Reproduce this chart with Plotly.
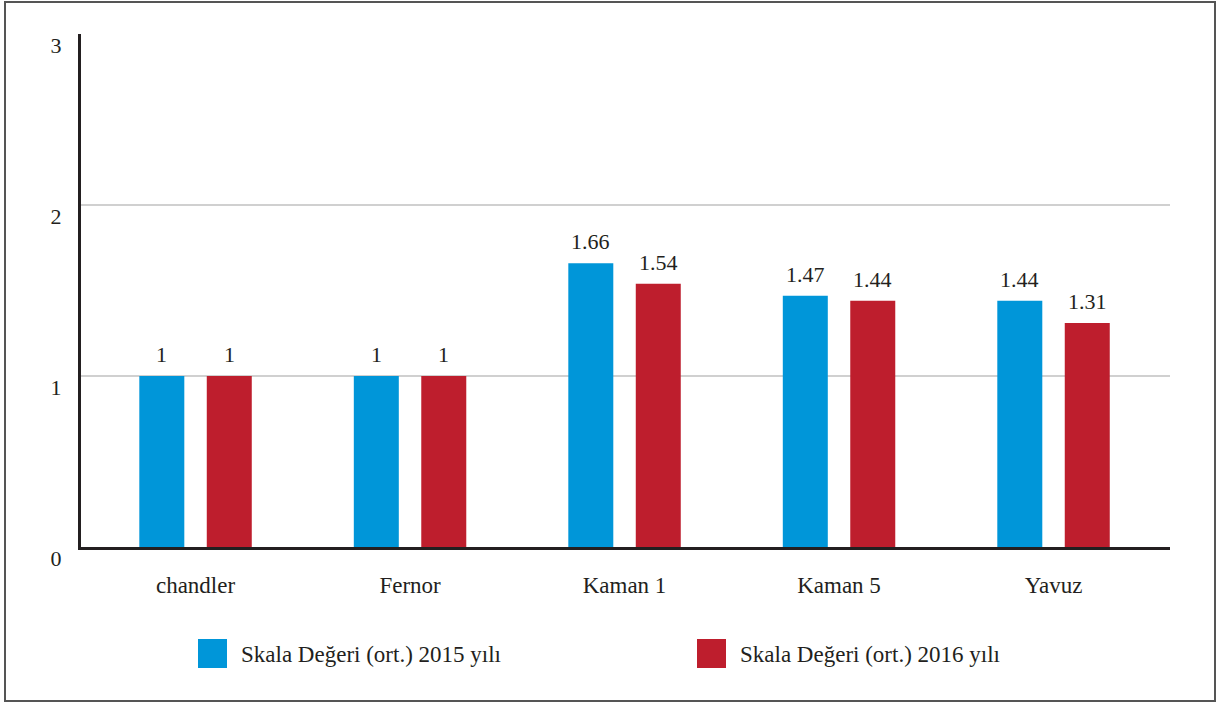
import plotly.graph_objects as go

# Data
categories = ["chandler", "Fernor", "Kaman 1", "Kaman 5", "Yavuz"]
series_names = ["Skala Değeri (ort.) 2015 yılı", "Skala Değeri (ort.) 2016 yılı"]
values_2015 = [1, 1, 1.66, 1.47, 1.44]
values_2016 = [1, 1, 1.54, 1.44, 1.31]
y_ticks = [0, 1, 2, 3]

colors = ["#0096d9", "#be1e2d"]
text_color = "#231f20"
font_family = "Liberation Serif, Times New Roman, serif"

# Page geometry (pixels)
W, H = 1218, 704
L, R, T, B = 81, 48, 34, 157
pw, ph = W - L - R, H - T - B


def px_x(x):
    return (x - L) / pw


def px_y(y):
    return (H - B - y) / ph


fig = go.Figure()
for name, vals, col in zip(series_names, [values_2015, values_2016], colors):
    fig.add_trace(go.Bar(
        x=list(range(len(categories))), y=vals, name=name,
        marker=dict(color=col, line=dict(width=0)),
        showlegend=False,
    ))

# Value labels above bars
bargap, bargroupgap = 0.371, 0.333
slot = (1 - bargap) / 2
annotations = []
for k, vals in enumerate([values_2015, values_2016]):
    off = (k - 0.5) * slot
    for i, v in enumerate(vals):
        annotations.append(dict(
            x=i + off, y=v, xref="x", yref="y", text=f"{v:g}",
            showarrow=False, yanchor="bottom", yshift=7,
            font=dict(size=22, color=text_color, family=font_family),
        ))

# Legend drawn as swatches and labels
shapes = []
legend_x = [198, 697]
for name, col, lx in zip(series_names, colors, legend_x):
    shapes.append(dict(type="rect", xref="paper", yref="paper",
                       x0=px_x(lx), x1=px_x(lx + 29), y0=px_y(668), y1=px_y(639),
                       fillcolor=col, line=dict(width=0)))
    annotations.append(dict(x=px_x(lx + 41), y=px_y(654), xref="paper", yref="paper",
                            text=name, showarrow=False, xanchor="left", yanchor="middle",
                            font=dict(size=23, color=text_color, family=font_family)))

# Outer frame
shapes.append(dict(type="rect", xref="paper", yref="paper",
                   x0=px_x(5), x1=px_x(1215), y0=px_y(701), y1=px_y(2),
                   line=dict(color="#555555", width=2), fillcolor="rgba(0,0,0,0)",
                   layer="below"))

fig.update_layout(
    width=W, height=H,
    margin=dict(l=L, r=R, t=T, b=B),
    paper_bgcolor="white", plot_bgcolor="white",
    barmode="group", bargap=bargap, bargroupgap=bargroupgap,
    font=dict(family=font_family, color=text_color, size=22),
    annotations=annotations, shapes=shapes,
    xaxis=dict(
        tickmode="array", tickvals=list(range(len(categories))), ticktext=categories,
        range=[-0.534, 4.543], showgrid=False, zeroline=False,
        showline=True, linecolor="#231f20", linewidth=3,
        ticks="", ticklabelstandoff=15,
        tickfont=dict(size=23, color=text_color, family=font_family),
    ),
    yaxis=dict(
        range=[0, 3], tickvals=y_ticks, showgrid=True, gridcolor="#d0d0d0", gridwidth=2,
        zeroline=False, showline=True, linecolor="#231f20", linewidth=3,
        ticks="", ticklabelstandoff=12, ticklabelshift=11,
        tickfont=dict(size=22, color=text_color, family=font_family),
    ),
)

fig.write_html("out.html")
